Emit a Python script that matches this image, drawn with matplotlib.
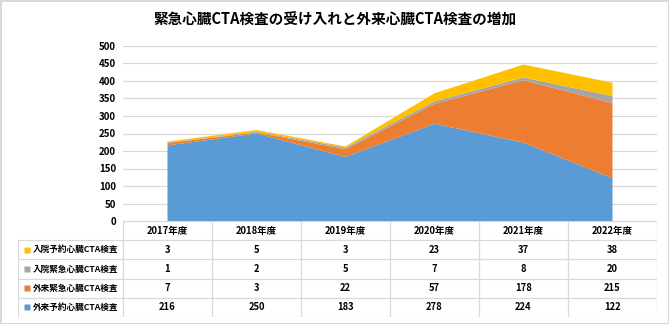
import matplotlib.pyplot as plt
import numpy as np

plt.rcParams['font.family'] = ['Noto Sans CJK JP', 'DejaVu Sans']

years = ['2017年度', '2018年度', '2019年度', '2020年度', '2021年度', '2022年度']
in_yoyaku = [3, 5, 3, 23, 37, 38]       # 入院予約
in_kinkyu = [1, 2, 5, 7, 8, 20]         # 入院緊急
gai_kinkyu = [7, 3, 22, 57, 178, 215]   # 外来緊急
gai_yoyaku = [216, 250, 183, 278, 224, 122]  # 外来予約

labels = ['入院予約心臓CTA検査', '入院緊急心臓CTA検査', '外来緊急心臓CTA検査', '外来予約心臓CTA検査']
colors = ['#FFC000', '#A5A5A5', '#ED7D31', '#5B9BD5']
rows = [in_yoyaku, in_kinkyu, gai_kinkyu, gai_yoyaku]

W, H = 669, 324
fig = plt.figure(figsize=(W / 100, H / 100), dpi=100)
grid_c = '#d9d9d9'
fig.patch.set_edgecolor(grid_c)
fig.patch.set_linewidth(2)

# chart area (pixel box -> figure fraction)
ax = fig.add_axes([123 / W, (H - 221) / H, (657 - 123) / W, (221 - 46) / H])
x = np.arange(len(years))
ax.stackplot(x, gai_yoyaku, gai_kinkyu, in_kinkyu, in_yoyaku,
             colors=colors[::-1], linewidth=0, zorder=3)
ax.set_xlim(-0.5, len(years) - 0.5)
ax.set_ylim(0, 500)
ax.set_yticks(range(0, 501, 50))
ax.set_xticks([])
ax.tick_params(axis='y', length=0, labelsize=7, pad=5)
for t in ax.get_yticklabels():
    t.set_fontweight('bold')
ax.grid(axis='y', color=grid_c, linewidth=0.9, zorder=0)
for s in ax.spines.values():
    s.set_visible(False)

fig.text(0.5, (H - 20) / H, '緊急心臓CTA検査の受け入れと外来心臓CTA検査の増加',
         ha='center', va='center', fontsize=10.5, fontweight='bold')

# data table underneath
lab_w = 105 / 89
tx = fig.add_axes([18 / W, (H - 317) / H, (657 - 18) / W, (317 - 221) / H])
tx.set_xlim(-0.5 - lab_w, len(years) - 0.5)
tx.set_ylim(len(rows) + 1, 0)
tx.axis('off')
x0 = -0.5 - lab_w
xr = len(years) - 0.5
tx.plot([-0.5, xr], [0, 0], color=grid_c, lw=0.9)
for r in range(1, len(rows) + 2):
    tx.plot([x0, xr], [r, r], color=grid_c, lw=0.9)
tx.plot([x0, x0], [1, len(rows) + 1], color=grid_c, lw=0.9)
for k in range(len(years) + 1):
    tx.plot([k - 0.5, k - 0.5], [0, len(rows) + 1], color=grid_c, lw=0.9)

for i, yr in enumerate(years):
    tx.text(i, 0.5, yr, ha='center', va='center', fontsize=6.8, fontweight='bold')
for r, (lab, col, vals) in enumerate(zip(labels, colors, rows)):
    yy = r + 1.5
    tx.plot(x0 + 0.1, yy, marker='s', ms=3.8, color=col, mec='none')
    tx.text(x0 + 0.17, yy, lab, ha='left', va='center', fontsize=6.2, fontweight='bold')
    for i, v in enumerate(vals):
        tx.text(i, yy, str(v), ha='center', va='center', fontsize=6.8, fontweight='bold')

fig.savefig('out.png', dpi=100, edgecolor=grid_c, facecolor='white')
